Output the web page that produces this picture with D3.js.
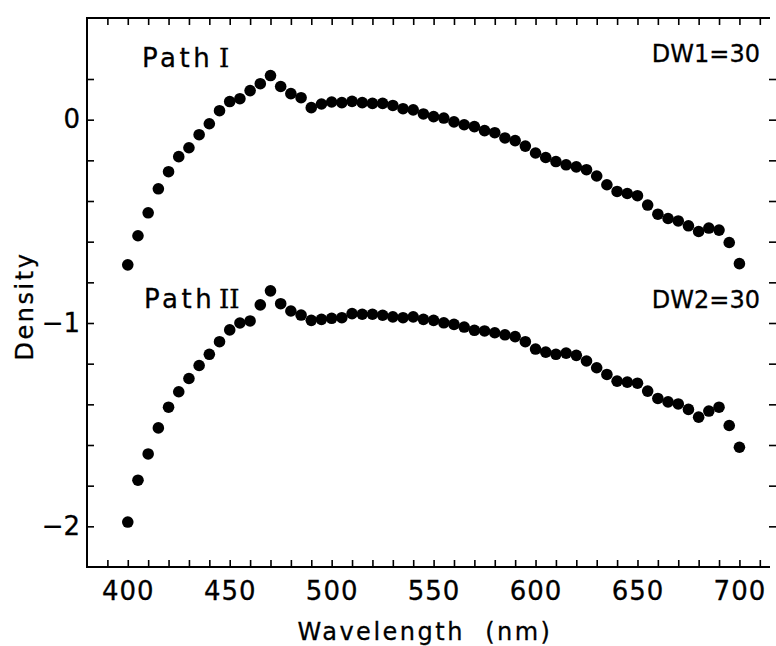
<!DOCTYPE html>
<html>
<head>
<meta charset="utf-8">
<script src="https://cdn.jsdelivr.net/npm/d3@7"></script>
<style>
  body { margin: 0; background: #fff; }
  text { font-family: "DejaVu Sans", sans-serif; fill: #000; stroke: #000; stroke-width: 0.3px; }
</style>
</head>
<body>
<svg width="776" height="646"></svg>
<script>
// wavelengths, 5 nm steps
var wavelengths = d3.range(400, 701, 5);

var path1 = [-0.714, -0.571, -0.458, -0.340, -0.256, -0.182, -0.138, -0.074, -0.020, 0.044,
  0.089, 0.103, 0.143, 0.177, 0.217, 0.163, 0.128, 0.108, 0.059, 0.077,
  0.087, 0.084, 0.090, 0.084, 0.080, 0.080, 0.070, 0.054, 0.048, 0.028,
  0.015, 0.008, -0.011, -0.025, -0.034, -0.054, -0.064, -0.090, -0.103, -0.130,
  -0.164, -0.186, -0.206, -0.222, -0.232, -0.246, -0.277, -0.320, -0.353, -0.363,
  -0.374, -0.420, -0.465, -0.486, -0.498, -0.522, -0.550, -0.533, -0.543, -0.604,
  -0.708];

var path2 = [-1.979, -1.773, -1.644, -1.516, -1.414, -1.338, -1.273, -1.209, -1.154, -1.092,
  -1.034, -1.000, -0.990, -0.911, -0.842, -0.905, -0.941, -0.961, -0.987, -0.982,
  -0.977, -0.974, -0.954, -0.957, -0.957, -0.962, -0.970, -0.974, -0.970, -0.982,
  -0.987, -0.999, -1.007, -1.020, -1.036, -1.039, -1.048, -1.058, -1.067, -1.092,
  -1.128, -1.143, -1.154, -1.148, -1.159, -1.187, -1.220, -1.253, -1.286, -1.291,
  -1.296, -1.335, -1.371, -1.388, -1.398, -1.425, -1.463, -1.433, -1.414, -1.504,
  -1.611];

var xTickLabels = [400, 450, 500, 550, 600, 650, 700];
var yTickLabels = [0, -1, -2];

var svg = d3.select("svg");

var x = d3.scaleLinear().domain([380, 715]).range([87, 770]);
var y = d3.scaleLinear().domain([-2.2, 0.5]).range([567, 18]);

var minorX = d3.range(390, 711, 10);
var minorY = d3.range(-20, 3, 2).map(function(d) { return d / 10; });

// frame: left, top, bottom (no visible right line)
svg.append("path")
  .attr("d", "M" + x(715) + "," + y(0.5) + "H" + x(380) + "V" + y(-2.2) + "H" + x(715))
  .attr("fill", "none").attr("stroke", "#000").attr("stroke-width", 2);

// bottom axis
var xAxis = d3.axisBottom(x).tickValues(minorX).tickSize(-7)
  .tickFormat(function(d) { return xTickLabels.indexOf(d) >= 0 ? d : ""; });
var gx = svg.append("g").attr("transform", "translate(0," + y(-2.2) + ")").call(xAxis);
gx.select(".domain").remove();
gx.selectAll("line").attr("stroke-width", 1.6);
gx.selectAll("text").attr("y", 33).attr("dy", 0)
  .style("font-size", "26px").style("letter-spacing", "1px").style("font-family", "DejaVu Sans");

// top axis
var gt = svg.append("g").attr("transform", "translate(0," + y(0.5) + ")")
  .call(d3.axisTop(x).tickValues(minorX).tickSize(-7).tickFormat(""));
gt.select(".domain").remove();
gt.selectAll("line").attr("stroke-width", 1.6);

// left axis
var yAxis = d3.axisLeft(y).tickValues(minorY).tickSize(-7)
  .tickFormat(function(d) { return yTickLabels.indexOf(d) >= 0 ? d3.format("d")(d).replace("-", "\u2212") : ""; });
var gy = svg.append("g").attr("transform", "translate(" + x(380) + ",0)").call(yAxis);
gy.select(".domain").remove();
gy.selectAll("line").attr("stroke-width", 1.6);
gy.selectAll("text").attr("x", -7)
  .style("font-size", "26px").style("font-family", "DejaVu Sans");

// right side tick marks
var gr = svg.append("g").attr("transform", "translate(776,0)")
  .call(d3.axisLeft(y).tickValues(minorY).tickSize(7).tickFormat(""));
gr.select(".domain").remove();
gr.selectAll("line").attr("stroke-width", 1.6);

// points
function drawSeries(vals) {
  svg.append("g").selectAll("circle")
    .data(wavelengths.map(function(w, i) { return [w, vals[i]]; }))
    .enter()
    .append("circle")
    .attr("cx", function(d) { return x(d[0]); })
    .attr("cy", function(d) { return y(d[1]); })
    .attr("r", 5.8)
    .style("fill", "#000");
}
drawSeries(path1);
drawSeries(path2);

// labels
function pathLabel(px, py, rx, roman) {
  svg.append("text").attr("x", px).attr("y", py)
    .style("font-size", "26px").style("letter-spacing", "3.5px").text("Path");
  svg.append("text").attr("x", rx).attr("y", py)
    .style("font-size", "26px")
    .style("font-family", "DejaVu Serif").text(roman);
}
pathLabel(142, 67, 219, "I");
pathLabel(144, 308, 219, "II");

svg.append("text").attr("x", 760).attr("y", 62).attr("text-anchor", "end")
  .style("font-size", "24px").text("DW1=30");
svg.append("text").attr("x", 760).attr("y", 308).attr("text-anchor", "end")
  .style("font-size", "24px").text("DW2=30");

svg.append("text").attr("x", 425).attr("y", 640).attr("text-anchor", "middle")
  .style("font-size", "24px").style("letter-spacing", "2.5px")
  .attr("xml:space", "preserve").text("Wavelength  (nm)");

svg.append("text").attr("transform", "translate(33,306) rotate(-90)")
  .attr("text-anchor", "middle")
  .style("font-size", "24px").style("letter-spacing", "2.5px").text("Density");
</script>
</body>
</html>
